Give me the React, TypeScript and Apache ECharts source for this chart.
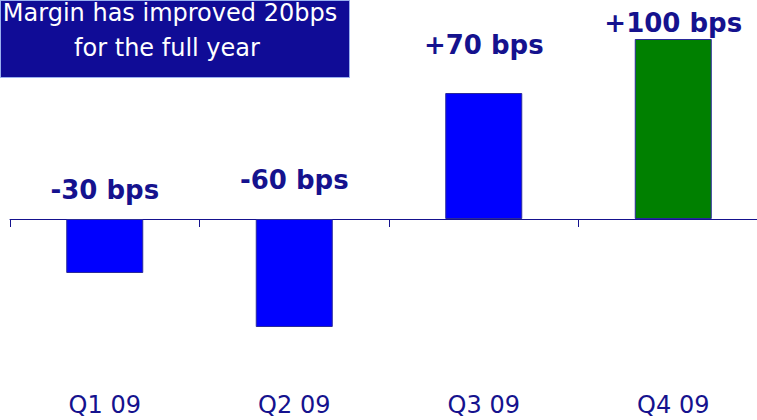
import React, { useEffect, useRef } from "react";
import * as echarts from "echarts";

// Quarterly margin change, in basis points
const quarters = ["Q1 09", "Q2 09", "Q3 09", "Q4 09"];
const marginChangeBps = [-30, -60, 70, 100];
const barColors = ["#0000FF", "#0000FF", "#0000FF", "#008000"];
const headline = ["Margin has improved 20bps", "for the full year"];

const NAVY = "#15128E";
const FONT = "'DejaVu Sans', sans-serif";

// Extra lift of each value label above its bar (px)
const labelLift = [11, 21, 30, -2];

export default function App() {
  const ref = useRef<HTMLDivElement>(null);

  useEffect(() => {
    if (!ref.current) return;
    const chart = echarts.init(ref.current, undefined, { renderer: "svg" });

    const data = marginChangeBps.map((v, i) => ({
      value: v,
      itemStyle: { color: barColors[i] },
      label: { offset: [0, -labelLift[i]] },
    }));

    chart.setOption({
      animation: false,
      backgroundColor: "#FFFFFF",
      grid: {
        left: 10,
        width: 758,
        top: 39,
        height: 342,
        containLabel: false,
        outerBoundsMode: "none",
      },
      xAxis: {
        type: "category",
        data: quarters,
        axisLine: { onZero: true, lineStyle: { color: NAVY, width: 1 } },
        axisTick: { show: true, length: 8, lineStyle: { color: NAVY } },
        axisLabel: {
          margin: 12,
          color: NAVY,
          fontSize: 24,
          fontFamily: FONT,
        },
        splitLine: { show: false },
      },
      yAxis: {
        type: "value",
        min: -90,
        max: 100,
        show: false,
        splitLine: { show: false },
      },
      series: [
        {
          type: "bar",
          data,
          barWidth: 77,
          itemStyle: { borderColor: "#2A2A9A", borderWidth: 1 },
          label: {
            show: true,
            position: "top",
            distance: 5,
            color: NAVY,
            fontSize: 26,
            fontWeight: "bold",
            fontFamily: FONT,
            formatter: (p: any) =>
              (p.value > 0 ? "+" : "") + p.value + " bps",
          },
        },
      ],
      graphic: [
        {
          type: "rect",
          left: 0,
          top: 0,
          shape: { width: 349, height: 77 },
          style: { fill: "#100C96", stroke: "#9AB0EE", lineWidth: 1 },
        },
        {
          type: "text",
          x: 170,
          y: 13,
          style: {
            text: headline[0],
            fill: "#FFFFFF",
            font: `24px ${FONT}`,
            lineHeight: 24,
            align: "center",
            verticalAlign: "middle",
          },
        },
        {
          type: "text",
          x: 167,
          y: 48,
          style: {
            text: headline[1],
            fill: "#FFFFFF",
            font: `24px ${FONT}`,
            lineHeight: 24,
            align: "center",
            verticalAlign: "middle",
          },
        },
      ],
    });

    return () => chart.dispose();
  }, []);

  return (
    <div
      ref={ref}
      style={{ position: "absolute", left: 0, top: 0, width: 757, height: 420 }}
    />
  );
}
